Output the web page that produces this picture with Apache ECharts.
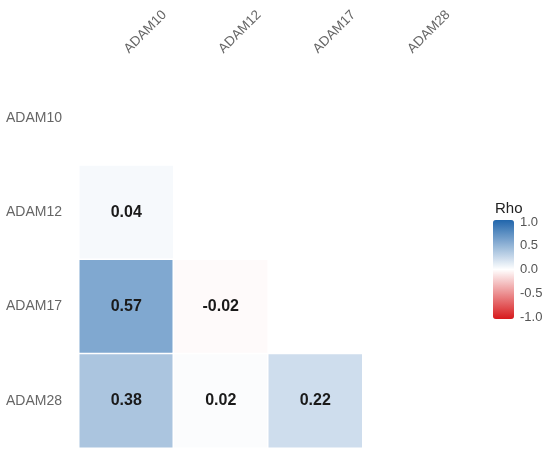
<!DOCTYPE html>
<html>
<head>
<meta charset="utf-8">
<script src="https://cdn.jsdelivr.net/npm/echarts@6/dist/echarts.min.js"></script>
<style>html,body{margin:0;padding:0;background:#fff}#c{width:550px;height:458px}</style>
</head>
<body>
<div id="c"></div>
<script>
var genes = ['ADAM10', 'ADAM12', 'ADAM17', 'ADAM28'];
// lower-triangle correlation values: [column gene, row gene, rho]
var colGenes = ['ADAM10', 'ADAM10', 'ADAM12', 'ADAM10', 'ADAM12', 'ADAM17'];
var rowGenes = ['ADAM12', 'ADAM17', 'ADAM17', 'ADAM28', 'ADAM28', 'ADAM28'];
var rhoValues = [0.04, 0.57, -0.02, 0.38, 0.02, 0.22];
var legendTicks = [-1, -0.5, 0, 0.5, 1];

var data = rhoValues.map(function (v, i) {
  return [genes.indexOf(colGenes[i]), genes.indexOf(rowGenes[i]), v];
});

var font = 'Liberation Sans, Arial, Helvetica, sans-serif';
var chart = echarts.init(document.getElementById('c'));
chart.setOption({
  backgroundColor: '#fff',
  animation: false,
  textStyle: { fontFamily: font },
  title: {
    text: 'Rho', left: 490, top: 196,
    textStyle: { fontSize: 15, fontWeight: 'normal', color: '#222', fontFamily: font }
  },
  grid: [
    { left: 79, top: 71, width: 378, height: 377 },
    { left: 514, top: 222, width: 1, height: 95 }
  ],
  xAxis: [
    {
      type: 'category', data: genes, position: 'top', gridIndex: 0,
      axisLine: { show: false }, axisTick: { show: false }, splitLine: { show: false },
      axisLabel: { rotate: -45, margin: 20, fontSize: 13.5, color: '#666', fontFamily: font }
    },
    { type: 'value', gridIndex: 1, show: false }
  ],
  yAxis: [
    {
      type: 'category', data: genes, inverse: true, gridIndex: 0,
      axisLine: { show: false }, axisTick: { show: false }, splitLine: { show: false },
      axisLabel: { margin: 17, fontSize: 14, color: '#666', fontFamily: font }
    },
    {
      type: 'value', gridIndex: 1, min: -1, max: 1, interval: 0.5, position: 'right',
      axisLine: { show: false }, axisTick: { show: false }, splitLine: { show: false },
      axisLabel: {
        margin: 5, fontSize: 13, color: '#555', fontFamily: font,
        formatter: function (v) { return legendTicks.indexOf(v) >= 0 ? v.toFixed(1) : ''; }
      }
    }
  ],
  visualMap: {
    type: 'continuous', min: -1, max: 1, seriesIndex: 0,
    calculable: false, hoverLink: false, padding: 0,
    left: 493, top: 220, itemWidth: 21, itemHeight: 99,
    inRange: { color: ['#d7191c', '#ffffff', '#2166ac'] },
    text: null, showLabel: false
  },
  series: [{
    type: 'heatmap', xAxisIndex: 0, yAxisIndex: 0, data: data,
    itemStyle: { borderColor: '#fff', borderWidth: 1.5 },
    label: {
      show: true, fontSize: 16, fontWeight: 'bold', color: '#1a1a1a', fontFamily: font,
      formatter: function (p) { return p.value[2].toFixed(2); }
    },
    emphasis: { disabled: true }
  }]
});
</script>
</body>
</html>
